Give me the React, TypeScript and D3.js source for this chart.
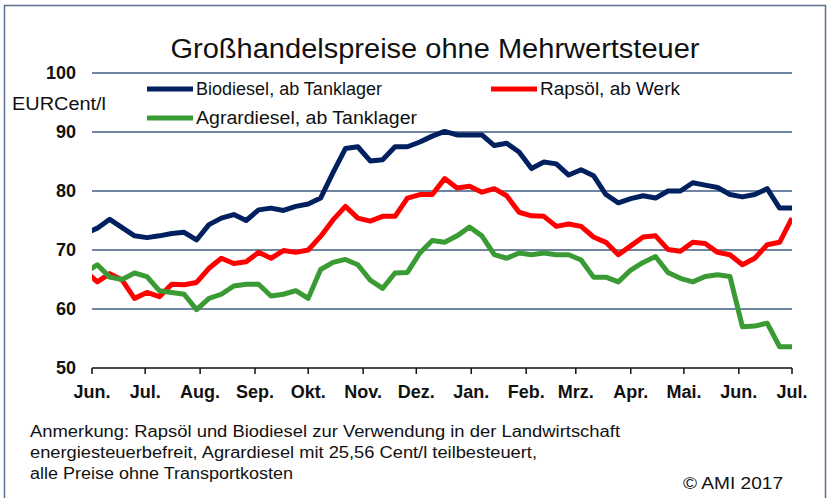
import React from 'react';
import * as d3 from 'd3';

const width = 830;
const height = 498;
const margin = { top: 73, left: 92, right: 38, bottom: 130 };
const font = "'Liberation Sans Narrow', 'Liberation Sans', Arial, sans-serif";

// weekly quotations, first one falls just before the axis start and is clipped
const firstWeek = new Date(2016, 4, 28);
const monthLabels = ['Jun.', 'Jul.', 'Aug.', 'Sep.', 'Okt.', 'Nov.', 'Dez.', 'Jan.', 'Feb.', 'Mrz.', 'Apr.', 'Mai.', 'Jun.', 'Jul.'];
const yTicks = [50, 60, 70, 80, 90, 100];

const biodiesel = [
  72.8, 73.7, 75.2, 73.8, 72.4, 72.1, 72.4, 72.8, 73.0, 71.7, 74.3, 75.4, 76.0, 75.0, 76.8, 77.1,
  76.7, 77.4, 77.8, 78.8, 83.1, 87.2, 87.5, 85.1, 85.3, 87.5, 87.5, 88.3, 89.3, 90.1, 89.5, 89.5,
  89.5, 87.7, 88.1, 86.6, 83.8, 84.9, 84.6, 82.7, 83.6, 82.6, 79.4, 78.0, 78.7, 79.2, 78.8, 80.0,
  80.0, 81.4, 81.0, 80.6, 79.4, 79.0, 79.4, 80.4, 77.1, 77.1
];
const rapsoel = [
  66.5, 64.6, 66.0, 64.9, 61.8, 62.8, 62.1, 64.2, 64.1, 64.5, 66.9, 68.6, 67.7, 68.0, 69.6, 68.6,
  69.9, 69.6, 70.0, 72.3, 75.1, 77.4, 75.4, 74.9, 75.7, 75.7, 78.8, 79.4, 79.4, 82.1, 80.5, 80.8,
  79.8, 80.4, 79.2, 76.4, 75.8, 75.7, 74.0, 74.4, 74.0, 72.2, 71.3, 69.2, 70.7, 72.2, 72.4, 70.1,
  69.8, 71.3, 71.1, 69.6, 69.2, 67.5, 68.6, 70.9, 71.3, 75.4
];
const agrardiesel = [
  66.1, 67.5, 65.4, 65.0, 66.1, 65.5, 63.1, 62.8, 62.5, 59.9, 61.8, 62.5, 63.9, 64.2, 64.2, 62.2,
  62.5, 63.1, 61.8, 66.7, 67.9, 68.4, 67.5, 64.9, 63.5, 66.1, 66.2, 69.5, 71.6, 71.3, 72.4, 73.9,
  72.4, 69.2, 68.6, 69.5, 69.2, 69.5, 69.2, 69.2, 68.3, 65.4, 65.4, 64.6, 66.6, 67.9, 68.9, 66.2,
  65.2, 64.6, 65.5, 65.8, 65.5, 57.0, 57.1, 57.6, 53.6, 53.6
];

const series = [
  { name: 'Biodiesel, ab Tanklager', values: biodiesel, color: '#002060' },
  { name: 'Rapsöl, ab Werk', values: rapsoel, color: '#ff0000' },
  { name: 'Agrardiesel, ab Tanklager', values: agrardiesel, color: '#3a9a33' },
];

const dates = biodiesel.map((_, i) => d3.timeDay.offset(firstWeek, i * 7));

const x = d3.scaleTime()
  .domain([new Date(2016, 5, 1), new Date(2017, 6, 1)])
  .range([margin.left, width - margin.right]);
const y = d3.scaleLinear()
  .domain([50, 100])
  .range([height - margin.bottom, margin.top]);

const monthTicks = d3.timeMonth.range(new Date(2016, 5, 1), new Date(2017, 6, 2));

const line = d3.line<number>()
  .x((_, i) => x(dates[i]))
  .y(d => y(d));

export default function App() {
  const [x0, x1] = x.range();
  return (
    <svg width={width} height={height} style={{ display: 'block', position: 'absolute', left: 0, top: 0 }}>
      <rect x={0} y={0} width={width} height={height} fill="#fff" />
      <rect x={4.5} y={5.5} width={821} height={500} fill="none" stroke="#5b7290" strokeWidth={1.5} />
      <defs>
        <clipPath id="plot-clip">
          <rect x={x0} y={0} width={x1 - x0} height={height} />
        </clipPath>
      </defs>

      <text x={435} y={58} textAnchor="middle" fontFamily={font} fontSize={27} fill="#111"
        textLength={529} lengthAdjust="spacingAndGlyphs">Großhandelspreise ohne Mehrwertsteuer</text>

      {yTicks.filter(t => t > 50).map(t => (
        <line key={t} x1={x0} x2={x1} y1={y(t)} y2={y(t)} stroke="#6f85a1" strokeWidth={2} />
      ))}
      {yTicks.map(t => (
        <text key={t} x={76} y={y(t) + 6} textAnchor="end" fontFamily={font} fontSize={18}
          fontWeight="bold" fill="#111">{t}</text>
      ))}
      <text x={12} y={110} fontFamily={font} fontSize={18} fill="#111" textLength={94}
        lengthAdjust="spacingAndGlyphs">EURCent/l</text>

      <line x1={x0} x2={x1} y1={y(50)} y2={y(50)} stroke="#111" strokeWidth={1.5} />
      {monthTicks.map((m, i) => (
        <g key={i} transform={`translate(${x(m)},${y(50)})`}>
          <line y1={0} y2={6} stroke="#111" strokeWidth={1.5} />
          <text y={30} textAnchor="middle" fontFamily={font} fontSize={18} fontWeight="bold"
            fill="#111">{monthLabels[i]}</text>
        </g>
      ))}

      <g clipPath="url(#plot-clip)">
        {series.map(s => (
          <path key={s.name} d={line(s.values) ?? ''} fill="none" stroke={s.color} strokeWidth={5}
            strokeLinejoin="round" />
        ))}
      </g>

      {/* legend */}
      <g fontFamily={font} fontSize={18} fill="#111">
        <line x1={147} x2={193} y1={89} y2={89} stroke={series[0].color} strokeWidth={5} />
        <text x={196} y={95} textLength={186} lengthAdjust="spacingAndGlyphs">{series[0].name}</text>
        <line x1={491} x2={537} y1={89} y2={89} stroke={series[1].color} strokeWidth={5} />
        <text x={540} y={95} textLength={140} lengthAdjust="spacingAndGlyphs">{series[1].name}</text>
        <line x1={147} x2={193} y1={118} y2={118} stroke={series[2].color} strokeWidth={5} />
        <text x={196} y={124} textLength={221} lengthAdjust="spacingAndGlyphs">{series[2].name}</text>
      </g>

      <g fontFamily={font} fontSize={16} fill="#111">
        <text x={30} y={437} textLength={590} lengthAdjust="spacingAndGlyphs">Anmerkung: Rapsöl und Biodiesel zur Verwendung in der Landwirtschaft</text>
        <text x={30} y={458} textLength={507} lengthAdjust="spacingAndGlyphs">energiesteuerbefreit, Agrardiesel mit 25,56 Cent/l teilbesteuert,</text>
        <text x={30} y={479} textLength={263} lengthAdjust="spacingAndGlyphs">alle Preise ohne Transportkosten</text>
        <text x={783} y={489} textAnchor="end" textLength={100} lengthAdjust="spacingAndGlyphs">© AMI 2017</text>
      </g>
    </svg>
  );
}
